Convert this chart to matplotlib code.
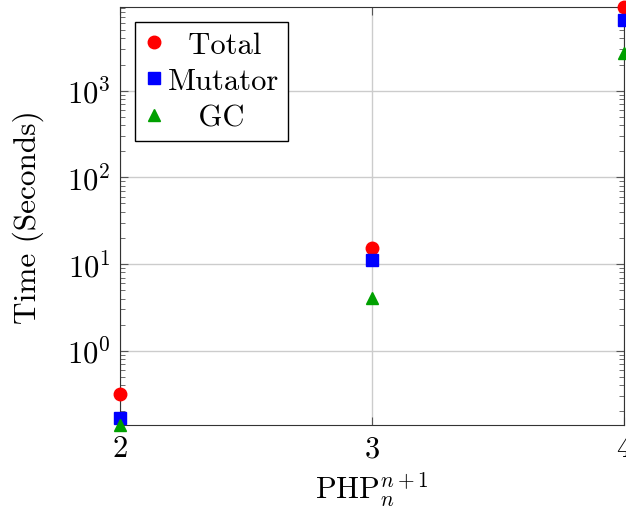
import numpy as np
import matplotlib
matplotlib.use('Agg')
import matplotlib.pyplot as plt
from matplotlib.ticker import LogLocator, NullFormatter

plt.rcParams['mathtext.fontset'] = 'cm'
plt.rcParams['font.family'] = 'serif'
plt.rcParams['font.serif'] = ['cmr10', 'DejaVu Serif']
plt.rcParams['axes.formatter.use_mathtext'] = True

# data
x_vals = [2, 3, 4]
total = [0.32, 15.3, 9300]
mutator = [0.17, 11.1, 6600]
gc_time = [0.14, 4.1, 2750]
labels = ['  Total', 'Mutator', '   GC']

fig = plt.figure(figsize=(6.26, 5.10), dpi=100)
ax = fig.add_axes([0.192, 0.165, 0.805, 0.820])

ax.plot(x_vals, total, 'o', color='red', ms=9, label=labels[0], clip_on=False, zorder=5)
ax.plot(x_vals, mutator, 's', color='blue', ms=8.5, label=labels[1], clip_on=False, zorder=5)
ax.plot(x_vals, gc_time, '^', color='#00a000', ms=8.5, label=labels[2], clip_on=False, zorder=5)

ax.set_yscale('log')
ax.set_xlim(2, 4)
ax.set_ylim(min(gc_time), max(total))
ax.set_xticks(x_vals)
ax.yaxis.set_major_locator(LogLocator(base=10))
ax.yaxis.set_minor_locator(LogLocator(base=10, subs=np.arange(2, 10)))
ax.yaxis.set_minor_formatter(NullFormatter())

ax.grid(True, which='major', color='#cccccc', lw=1)
ax.set_axisbelow(True)
ax.tick_params(which='both', direction='in', top=True, right=True, labelsize=22, color='#555555')
ax.tick_params(which='major', length=6, pad=7)
ax.tick_params(which='minor', length=3.5)
for s in ax.spines.values():
    s.set_color('#333333')

ax.set_xlabel(r'PHP$_{n}^{n+1}$', fontsize=22, labelpad=5)
ax.set_ylabel('Time (Seconds)', fontsize=22.5, labelpad=16)

leg = ax.legend(loc='upper left', fontsize=22, fancybox=False, edgecolor='black',
                framealpha=1, borderaxespad=0.5, handlelength=0.6, handletextpad=0.15,
                borderpad=0.3, labelspacing=0.3)
leg.get_frame().set_linewidth(1.0)

fig.savefig('out.png', dpi=100)
